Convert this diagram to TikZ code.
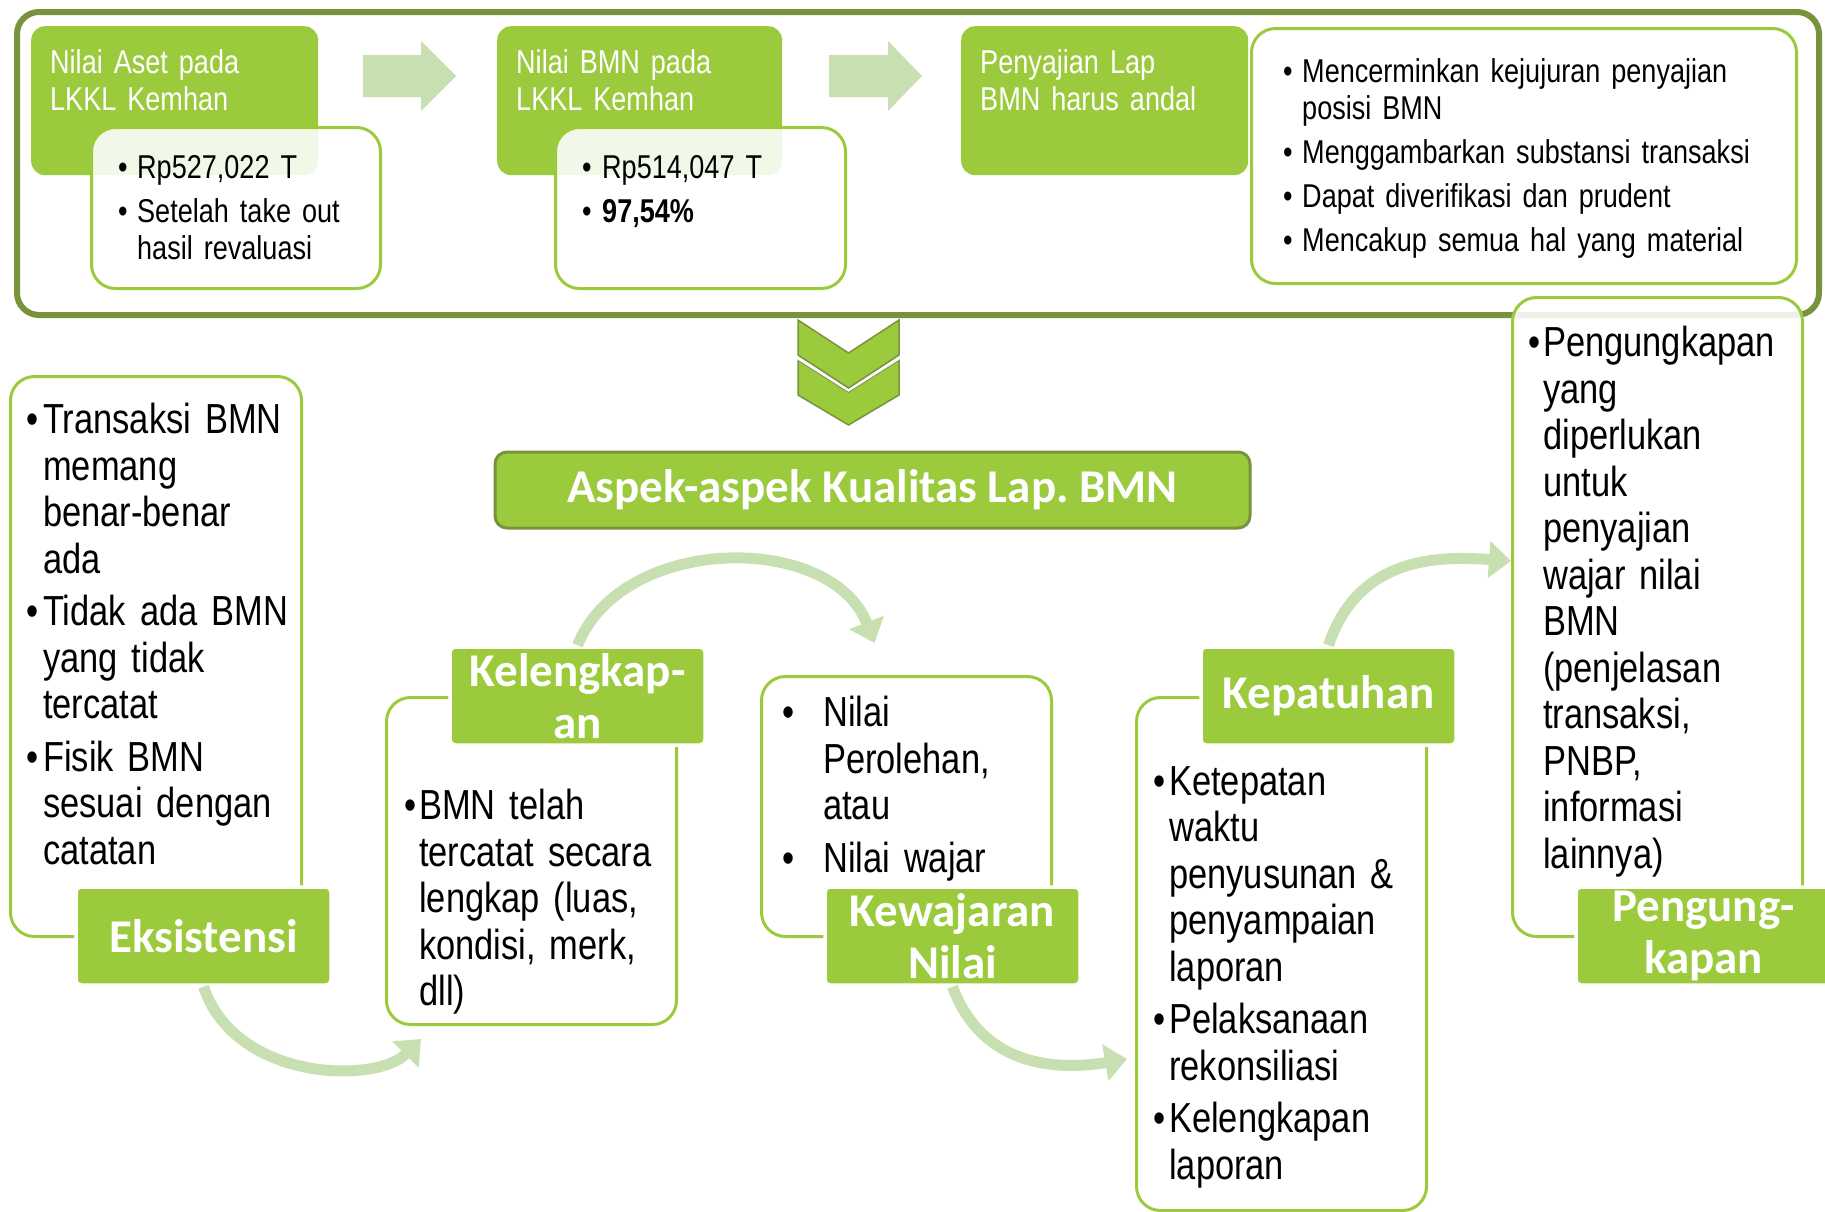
\documentclass[tikz,border=0pt]{standalone}
\usepackage{fontspec}
\setmainfont{Liberation Sans}[FakeStretch=0.82]
\newfontfamily\calfont{Carlito}
\usetikzlibrary{arrows.meta,calc}
\frenchspacing

\definecolor{kgreen}{HTML}{9BCB3C}
\definecolor{kdark}{HTML}{77933C}
\definecolor{klight}{HTML}{C8E0B1}

% bullet line with hanging indent
\newcommand\blitem[2]{\noindent\hangindent=#1\hangafter=1\makebox[#1][l]{\textbullet}#2\par}

\tikzset{
  greenbox/.style={fill=kgreen, rounded corners=14pt, inner sep=0pt, anchor=north west},
  whitebox/.style={draw=kgreen, line width=3pt, fill=white, fill opacity=0.88,
    rounded corners=24pt, inner sep=0pt, anchor=north west},
  aspectlbl/.style={fill=kgreen, draw=white, line width=3.5pt, rounded corners=5pt,
    inner sep=0pt, text=white, align=center, minimum width=255pt, minimum height=98pt,
    font=\calfont\bfseries\fontsize{47}{52}\selectfont},
  toptext/.style={anchor=north west, inner sep=0pt, text width=480pt,
    font=\fontsize{33}{37}\selectfont},
  lowtext/.style={anchor=north west, inner sep=0pt, text width=300pt,
    font=\fontsize{42}{46.5}\selectfont},
  flow/.style={draw=klight, line width=11pt, -{Triangle[length=22pt,width=36pt]}},
}

\begin{document}
\begin{tikzpicture}[x=1pt,y=-1pt]
  \useasboundingbox (0,0) rectangle (1825,1211);
  %
  % Top frame
  \node[draw=kdark, line width=6pt, rounded corners=22pt, inner sep=0pt,
    anchor=north west, minimum width=1802pt, minimum height=303pt] (frame) at (14,9) {};
  %
  % Green title boxes
  \node[greenbox, minimum width=287pt, minimum height=149pt] (aset) at (31,26) {};
  \node[greenbox, minimum width=285pt, minimum height=149pt] (bmn) at (497,26) {};
  \node[greenbox, minimum width=287pt, minimum height=149pt] (andal) at (961,26) {};
  \node[toptext, text=white] (asettitle) at (50,49) {Nilai Aset pada\newline LKKL Kemhan};
  \node[toptext, text=white] (bmntitle) at (516,49) {Nilai BMN pada\newline LKKL Kemhan};
  \node[toptext, text=white] (andaltitle) at (980,49) {Penyajian Lap\newline BMN harus andal};
  %
  % Block arrows
  \fill[klight] (363,55) -- (421,55) -- (421,41) -- (456,76) -- (421,111) -- (421,97)
    -- (363,97) -- cycle;
  \fill[klight] (829,55) -- (888,55) -- (888,41) -- (922,76) -- (888,111) -- (888,97)
    -- (829,97) -- cycle;
  %
  % White detail boxes
  \node[whitebox, minimum width=289pt, minimum height=161pt] (asetbox) at (90,126) {};
  \node[whitebox, minimum width=290pt, minimum height=161pt] (bmnbox) at (554,126) {};
  \node[whitebox, minimum width=545pt, minimum height=255pt] (andalbox) at (1250,27) {};
  \node[toptext] (asetlist) at (118,155) {\setlength\parskip{7pt}%
    \blitem{19pt}{Rp527,022 T}\blitem{19pt}{Setelah take out\newline hasil revaluasi}};
  \node[toptext] (bmnlist) at (582,155) {\setlength\parskip{7pt}%
    \blitem{20pt}{Rp514,047 T}\blitem{20pt}{\textbf{97,54\%}}};
  \node[toptext] (andallist) at (1283,58) {\setlength\parskip{7pt}%
    \blitem{19pt}{Mencerminkan kejujuran penyajian\newline posisi BMN}%
    \blitem{19pt}{Menggambarkan substansi transaksi}%
    \blitem{19pt}{Dapat diverifikasi dan prudent}%
    \blitem{19pt}{Mencakup semua hal yang material}};
  %
  % Double chevron
  \filldraw[fill=kgreen, draw=kdark, line width=1.5pt] (798,360) -- (848.5,392) -- (899,360)
    -- (899,395) -- (848.5,425) -- (798,395) -- cycle;
  \draw[white, line width=3pt] (798,358) -- (848.5,390) -- (899,358);
  \filldraw[fill=kgreen, draw=kdark, line width=1.5pt] (798,320) -- (848.5,353) -- (899,320)
    -- (899,355) -- (848.5,388) -- (798,355) -- cycle;
  %
  % Title bar
  \node[fill=kgreen, draw=kdark, line width=3pt, rounded corners=12pt, inner sep=0pt,
    minimum width=755pt, minimum height=76pt, text=white,
    font=\calfont\bfseries\fontsize{47}{52}\selectfont] (aspek) at (872.5,490)
    {Aspek-aspek Kualitas Lap. BMN};
  %
  % Aspect boxes
  \node[whitebox, minimum width=291pt, minimum height=560pt] (eksbox) at (9,375) {};
  \node[whitebox, minimum width=290pt, minimum height=327pt] (kelbox) at (385,696) {};
  \node[whitebox, minimum width=290pt, minimum height=260pt] (kewbox) at (760,675) {};
  \node[whitebox, minimum width=290pt, minimum height=513pt] (kepbox) at (1135,696) {};
  \node[whitebox, minimum width=290pt, minimum height=639pt] (pengbox) at (1511,296) {};
  %
  \node[lowtext] (ekslist) at (26,403) {\setlength\parskip{6pt}%
    \blitem{17pt}{Transaksi BMN\newline memang\newline benar-benar\newline ada}%
    \blitem{17pt}{Tidak ada BMN\newline yang tidak\newline tercatat}%
    \blitem{17pt}{Fisik BMN\newline sesuai dengan\newline catatan}};
  \node[lowtext] (kellist) at (404,789) {%
    \blitem{15pt}{BMN telah\newline tercatat secara\newline lengkap (luas,\newline
      kondisi, merk,\newline dll)}};
  \node[lowtext] (kewlist) at (782,696) {\setlength\parskip{6pt}%
    \blitem{41pt}{Nilai\newline Perolehan,\newline atau}%
    \blitem{41pt}{Nilai wajar}};
  \node[lowtext] (keplist) at (1153,766) {\setlength\parskip{6pt}%
    \blitem{16pt}{Ketepatan\newline waktu\newline penyusunan \&\newline penyampaian\newline laporan}%
    \blitem{16pt}{Pelaksanaan\newline rekonsiliasi}%
    \blitem{16pt}{Kelengkapan\newline laporan}};
  \node[lowtext] (penglist) at (1528,326) {%
    \blitem{15pt}{Pengungkapan\newline yang\newline diperlukan\newline untuk\newline
      penyajian\newline wajar nilai\newline BMN\newline (penjelasan\newline
      transaksi,\newline PNBP,\newline informasi\newline lainnya)}};
  %
  % Aspect labels
  \node[aspectlbl] (ekslbl) at (203.5,936) {Eksistensi};
  \node[aspectlbl] (kellbl) at (577.5,696) {Kelengkap-\\an};
  \node[aspectlbl] (kewlbl) at (952.5,936) {Kewajaran\\Nilai};
  \node[aspectlbl] (keplbl) at (1328.5,696) {Kepatuhan};
  \node[aspectlbl] (penglbl) at (1703.5,936) {Pengung-\\kapan};
  %
  % Flow arrows
  \draw[flow] (ekslbl.south) .. controls +(32,95) and +(-45,45)
    .. ([shift={(36,13)}]kelbox.south west);
  \draw[flow] (kellbl.north) .. controls +(45,-112) and +(-43,-111)
    .. ([shift={(-32,-32)}]kewbox.north);
  \draw[flow] (kewlbl.south) .. controls +(32,86) and +(-60,10)
    .. ([shift={(-8,363)}]kepbox.north west);
  \draw[flow] (keplbl.north) .. controls +(30,-90) and +(-70,-5)
    .. ([shift={(0,265)}]pengbox.north west);
  %
\end{tikzpicture}
\end{document}
